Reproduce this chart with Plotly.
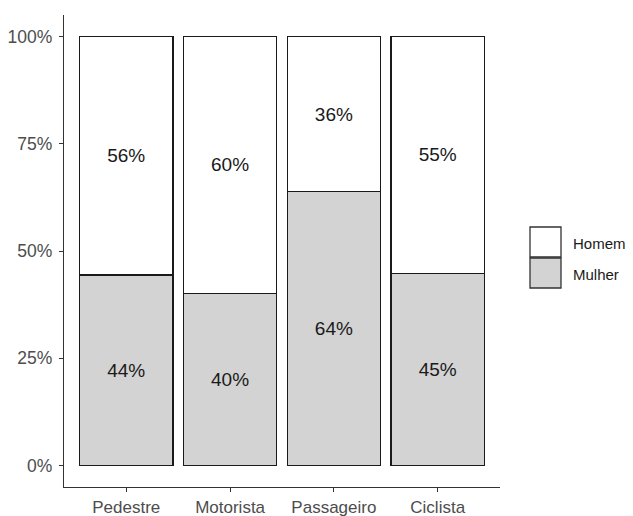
import plotly.graph_objects as go

categories = ["Pedestre", "Motorista", "Passageiro", "Ciclista"]
mulher = [0.444, 0.401, 0.638, 0.448]
homem = [1 - v for v in mulher]
mulher_labels = ["44%", "40%", "64%", "45%"]
homem_labels = ["56%", "60%", "36%", "55%"]
y_ticks = [0, 0.25, 0.5, 0.75, 1.0]
y_tick_labels = ["0%", "25%", "50%", "75%", "100%"]
legend_names = ["Homem", "Mulher"]
legend_colors = ["#ffffff", "#d3d3d3"]

FONT = "Liberation Sans, Arial"

fig = go.Figure()
fig.add_trace(go.Bar(
    x=categories, y=mulher, name="Mulher", width=0.9,
    marker=dict(color="#d3d3d3", line=dict(color="#1a1a1a", width=1.2)),
    text=mulher_labels, textposition="inside", insidetextanchor="middle",
    textfont=dict(family=FONT, size=19, color="#1a1a1a"),
    showlegend=False, hoverinfo="skip"))
fig.add_trace(go.Bar(
    x=categories, y=homem, name="Homem", width=0.9,
    marker=dict(color="#ffffff", line=dict(color="#1a1a1a", width=1.2)),
    text=homem_labels, textposition="inside", insidetextanchor="middle",
    textfont=dict(family=FONT, size=19, color="#1a1a1a"),
    showlegend=False, hoverinfo="skip"))

# page body has an 8px margin; size the figure so it fills the window
OFF = 8
W, H = 633 - OFF, 516 - OFF
ml, mr, mt, mb = 64 - OFF, 133, 15 - OFF, 29
pw, ph = W - ml - mr, H - mt - mb
def px2paper(x, y):
    return (x - OFF - ml) / pw, (OFF + H - mb - y) / ph

# custom legend (large keys like ggplot)
for i, (nm, col) in enumerate(zip(legend_names, legend_colors)):
    top = 227 + i * 31
    x0, y1 = px2paper(530, top)
    x1, y0 = px2paper(561, top + 30)
    fig.add_shape(type="rect", xref="paper", yref="paper", x0=x0, x1=x1, y0=y0, y1=y1,
                  fillcolor=col, line=dict(color="#333333", width=1.3))
    tx, ty = px2paper(571, top + 16)
    fig.add_annotation(xref="paper", yref="paper", x=tx, y=ty, text=nm, showarrow=False,
                       xanchor="left", yanchor="middle",
                       font=dict(family=FONT, size=15, color="#1a1a1a"))

fig.update_layout(
    barmode="stack", bargap=0.1,
    width=W, height=H,
    margin=dict(l=ml, r=mr, t=mt, b=mb, autoexpand=False),
    plot_bgcolor="white", paper_bgcolor="white",
    font=dict(family=FONT, size=17, color="#4d4d4d"),
    xaxis=dict(range=[-0.6, 3.6], showline=True, linecolor="#333333", linewidth=1.3,
               ticks="outside", ticklen=4, tickcolor="#333333", tickwidth=1.3,
               showgrid=False, zeroline=False, automargin=False,
               tickfont=dict(family=FONT, size=17, color="#4d4d4d")),
    yaxis=dict(range=[-0.05, 1.05], showline=True, linecolor="#333333", linewidth=1.3,
               ticks="outside", ticklen=4, tickcolor="#333333", tickwidth=1.3,
               tickvals=y_ticks, ticktext=y_tick_labels, ticklabelstandoff=3,
               showgrid=False, zeroline=False, automargin=False,
               tickfont=dict(family=FONT, size=17.5, color="#4d4d4d")),
)

fig.write_html("out.html")
